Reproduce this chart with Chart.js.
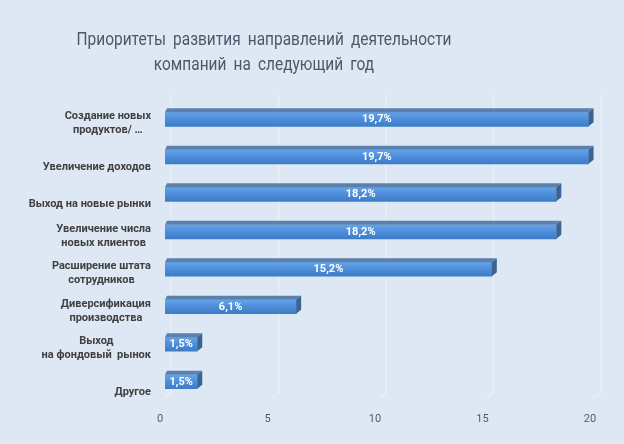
<!DOCTYPE html>
<html>
<head>
<meta charset="utf-8">
<script src="https://cdn.jsdelivr.net/npm/chart.js@4.4.1/dist/chart.umd.min.js"></script>
<style>
  html, body { margin: 0; padding: 0; background: #dde8f4; }
  canvas { display: block; }
</style>
</head>
<body>
<canvas id="chart" width="624" height="444"></canvas>
<script>
// Data
const titleLines = [
  "Приоритеты развития направлений деятельности",
  "компаний на следующий год",
];
const categories = [
  ["Создание новых", "продуктов/ …"],
  "Увеличение доходов",
  "Выход на новые рынки",
  ["Увеличение числа", "новых клиентов"],
  ["Расширение штата", "сотрудников"],
  ["Диверсификация", "производства"],
  ["Выход", "на фондовый  рынок"],
  "Другое",
];
const values = [19.7, 19.7, 18.2, 18.2, 15.2, 6.1, 1.5, 1.5];
const xTicks = [0, 5, 10, 15, 20];

const bgColor = "#dde8f4";
const fontFamily = "Roboto, 'Noto Sans', sans-serif";
const labelFont = "bold 11px " + fontFamily;
const depthX = 5;
const depthY = 4;

// background
const bgPlugin = {
  id: "bg",
  beforeDraw(chart) {
    const ctx = chart.ctx;
    ctx.save();
    ctx.fillStyle = bgColor;
    ctx.fillRect(0, 0, chart.width, chart.height);
    ctx.restore();
  },
};

// title, centred a bit left of the canvas middle like the original,
// squeezed horizontally to look like the narrow office font
const titlePlugin = {
  id: "titleText",
  afterDraw(chart) {
    const ctx = chart.ctx;
    ctx.save();
    ctx.wordSpacing = "4px";
    ctx.font = "19px " + fontFamily;
    const w = ctx.measureText(titleLines[0]).width;
    const sx = Math.min(1, 375 / w);
    ctx.fillStyle = "#4b586a";
    ctx.textAlign = "center";
    ctx.textBaseline = "middle";
    ctx.translate(264, 0);
    ctx.scale(sx, 1);
    titleLines.forEach((l, k) => ctx.fillText(l, 0, 40 + k * 25));
    ctx.restore();
  },
};

// faint 3D back-wall grid lines
const wallGrid = {
  id: "wallGrid",
  beforeDatasetsDraw(chart) {
    const ctx = chart.ctx;
    const area = chart.chartArea;
    const xs = chart.scales.x;
    ctx.save();
    ctx.strokeStyle = "rgba(240,246,252,0.55)";
    ctx.lineWidth = 1.5;
    xTicks.forEach((t) => {
      const px = xs.getPixelForValue(t);
      ctx.beginPath();
      ctx.moveTo(px + 6, area.top - 6);
      ctx.lineTo(px + 6, area.bottom - 8);
      ctx.lineTo(px - 1, area.bottom - 2);
      ctx.stroke();
    });
    ctx.restore();
  },
};

// top and side faces of the bars, plus the value labels
const bars3d = {
  id: "bars3d",
  afterDatasetsDraw(chart) {
    const ctx = chart.ctx;
    const meta = chart.getDatasetMeta(0);
    ctx.save();
    meta.data.forEach((bar, i) => {
      const { x, y, base, height } = bar.getProps(["x", "y", "base", "height"], true);
      const top = y - height / 2;
      const bottom = y + height / 2;

      // top face
      ctx.fillStyle = "#5a80ab";
      ctx.beginPath();
      ctx.moveTo(base, top);
      ctx.lineTo(base + 2, top - depthY);
      ctx.lineTo(x + depthX, top - depthY);
      ctx.lineTo(x, top);
      ctx.closePath();
      ctx.fill();

      // side face
      ctx.fillStyle = "#3b6291";
      ctx.beginPath();
      ctx.moveTo(x, top);
      ctx.lineTo(x + depthX, top - depthY);
      ctx.lineTo(x + depthX, bottom - depthY);
      ctx.lineTo(x, bottom);
      ctx.closePath();
      ctx.fill();

      // value label
      ctx.fillStyle = "#ffffff";
      ctx.font = labelFont;
      ctx.textAlign = "center";
      ctx.textBaseline = "middle";
      ctx.fillText(values[i].toFixed(1).replace(".", ",") + "%", (base + x) / 2, y);
    });
    ctx.restore();
  },
};

// category labels, each block centred and right aligned to the axis
const catLabels = {
  id: "catLabels",
  afterDraw(chart) {
    const ctx = chart.ctx;
    const ys = chart.scales.y;
    const right = chart.chartArea.left - 14;
    ctx.save();
    ctx.font = labelFont;
    ctx.fillStyle = "#404040";
    ctx.textAlign = "center";
    ctx.textBaseline = "middle";
    categories.forEach((lab, i) => {
      const lines = Array.isArray(lab) ? lab : [lab];
      const w = Math.max(...lines.map((l) => ctx.measureText(l).width));
      const cx = right - w / 2;
      const cy = ys.getPixelForTick(i) + (lines.length === 1 ? 10 : 4);
      const lh = 14;
      lines.forEach((l, k) => {
        ctx.fillText(l, cx, cy + (k - (lines.length - 1) / 2) * lh);
      });
    });
    ctx.restore();
  },
};

const barFill = (c) => {
  const ys = c.chart.scales.y;
  const cy = ys ? ys.getPixelForValue(c.dataIndex) : NaN;
  if (!Number.isFinite(cy)) return "#4a8ad4";
  const g = c.chart.ctx.createLinearGradient(0, cy - 7, 0, cy + 7);
  g.addColorStop(0, "#64a4ea");
  g.addColorStop(0.45, "#4f8fdb");
  g.addColorStop(1, "#3d7cc6");
  return g;
};

const ctx = document.getElementById("chart").getContext("2d");

new Chart(ctx, {
  type: "bar",
  data: {
    labels: categories,
    datasets: [
      {
        data: values,
        barThickness: 14,
        backgroundColor: barFill,
        borderWidth: 0,
      },
    ],
  },
  options: {
    indexAxis: "y",
    responsive: false,
    animation: false,
    layout: { padding: { left: 0, right: 29, top: 100.6, bottom: 14.3 } },
    plugins: {
      legend: { display: false },
      tooltip: { enabled: false },
      title: { display: false },
    },
    scales: {
      x: {
        min: 0,
        max: 20,
        grid: { display: false },
        border: { display: false },
        ticks: {
          stepSize: 5,
          color: "#595959",
          font: { family: fontFamily, size: 11 },
          labelOffset: -5,
          padding: 4,
        },
      },
      y: {
        grid: { display: false },
        border: { display: false },
        ticks: { display: false },
        afterFit(scale) {
          scale.width = 165;
        },
      },
    },
  },
  plugins: [bgPlugin, wallGrid, bars3d, catLabels, titlePlugin],
});
</script>
</body>
</html>
